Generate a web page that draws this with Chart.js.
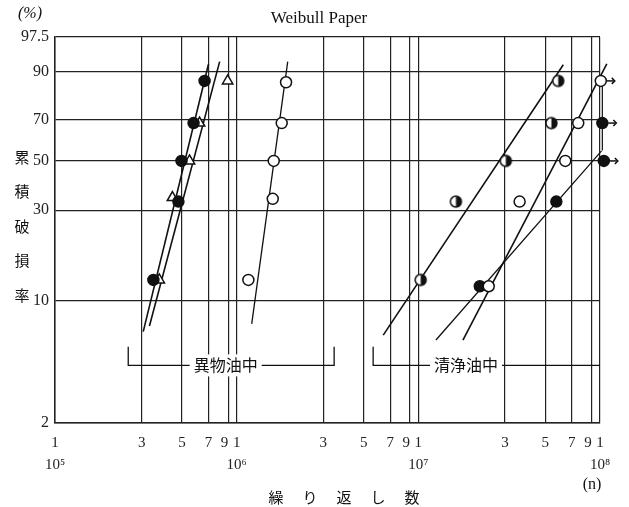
<!DOCTYPE html>
<html>
<head>
<meta charset="utf-8">
<script src="https://cdn.jsdelivr.net/npm/chart.js@4/dist/chart.umd.min.js"></script>
<style>
  html, body { margin: 0; padding: 0; background: #fff; }
  #wrap { width: 629px; height: 507px; }
</style>
</head>
<body>
<div id="wrap"><canvas id="weibullChart"></canvas></div>
<script>
// tick values
const yTicksPct = [2, 10, 30, 50, 70, 90, 97.5];
const xTickVals = [1e5, 3e5, 5e5, 7e5, 9e5, 1e6, 3e6, 5e6, 7e6, 9e6, 1e7, 3e7, 5e7, 7e7, 9e7, 1e8];
const decadeLabels = { 5: "10⁵", 6: "10⁶", 7: "10⁷", 8: "10⁸" };

// 異物油中 (cycles, cumulative failure %)
const dirtyFilledX = [3.48e5, 4.78e5, 4.97e5, 5.79e5, 6.66e5];
const dirtyFilledY = [13, 33, 50, 68.5, 87];
const dirtyTriX = [3.75e5, 4.43e5, 5.5e5, 6.25e5, 8.92e5];
const dirtyTriY = [13, 34.5, 50, 68.5, 87];
const dirtyOpenX = [1.16e6, 1.58e6, 1.6e6, 1.77e6, 1.87e6];
const dirtyOpenY = [13, 34, 50, 68.5, 86.5];

// 清浄油中
const cleanHalfX = [1.03e7, 1.61e7, 3.03e7, 5.4e7, 5.89e7];
const cleanHalfY = [13, 33, 50, 68.5, 87];
const cleanOpenX = [2.44e7, 3.61e7, 6.44e7, 7.59e7, 1.01e8];
const cleanOpenY = [12, 33, 50, 68.5, 87];
const cleanFilledX = [2.18e7, 5.75e7, 1.05e8, 1.03e8];
const cleanFilledY = [12, 33, 50, 68.5];

// fitted lines (two end points each)
const fitDirtyFilledX = [3.06e5, 7.0e5];
const fitDirtyFilledY = [6.7, 92.3];
const fitDirtyTriX = [3.31e5, 8.06e5];
const fitDirtyTriY = [7.2, 92.9];
const fitDirtyOpenX = [1.21e6, 1.91e6];
const fitDirtyOpenY = [7.4, 92.9];
const fitCleanHalfX = [6.41e6, 6.28e7];
const fitCleanHalfY = [6.4, 92.1];
const fitCleanOpenX = [1.76e7, 1.09e8];
const fitCleanOpenY = [6.0, 92.3];
const fitCleanFilledX = [1.25e7, 1.02e8];
const fitCleanFilledY = [6.0, 54.8];
const runoutLinkX = [1.03e8, 1.03e8];
const runoutLinkY = [87, 55];

// suspended (run-out) points get an arrow
const runoutX = [1.01e8, 1.03e8, 1.05e8];
const runoutY = [87, 68.5, 50];

// group brackets under the data
const groupFromX = [2.53e5, 5.64e6];
const groupToX = [3.44e6, 1.0e8];
const groupLabelX = [8.7e5, 1.83e7];
const groupNames = ["異物油中", "清浄油中"];
const groupTopPct = 5.5, groupBottomPct = 4.3;

const W = p => Math.log(-Math.log(1 - p / 100));
const pts = (xs, ys) => xs.map((x, i) => ({ x: x, y: W(ys[i]) }));

function halfDot(r) {
    const c = document.createElement("canvas");
    const s = Math.ceil(2 * r + 4);
    c.width = c.height = s;
    const g = c.getContext("2d");
    g.fillStyle = "#fff";
    g.beginPath(); g.arc(s / 2, s / 2, r, 0, Math.PI * 2); g.fill();
    g.fillStyle = "#111";
    g.beginPath(); g.arc(s / 2, s / 2, r, -Math.PI / 2, Math.PI / 2); g.closePath(); g.fill();
    g.lineWidth = 1.5; g.strokeStyle = "#111";
    g.beginPath(); g.arc(s / 2, s / 2, r, 0, Math.PI * 2); g.stroke();
    return c;
}

function marks(xs, ys, style, fill) {
    return {
        data: pts(xs, ys), showLine: false, clip: false,
        pointStyle: style, pointRadius: style === "triangle" ? 6 : 5.5,
        pointBackgroundColor: fill, pointBorderColor: "#111", pointBorderWidth: 1.5
    };
}
function fit(xs, ys, w) {
    return {
        data: pts(xs, ys), showLine: true, clip: false, pointRadius: 0,
        borderColor: "#111", borderWidth: w || 1.6
    };
}

const textPlugin = {
    id: "paperText",
    afterDatasetsDraw(chart) {
        const ctx = chart.ctx, xs = chart.scales.x, ys = chart.scales.y;
        ctx.save();
        // arrows for suspended points
        ctx.strokeStyle = "#111"; ctx.fillStyle = "#111"; ctx.lineWidth = 1.5;
        runoutX.forEach((v, i) => {
            const px = xs.getPixelForValue(v), py = ys.getPixelForValue(W(runoutY[i]));
            ctx.beginPath(); ctx.moveTo(px + 6, py); ctx.lineTo(px + 13, py); ctx.stroke();
            ctx.beginPath(); ctx.moveTo(px + 11, py - 3); ctx.lineTo(px + 14, py); ctx.lineTo(px + 11, py + 3); ctx.stroke();
        });
        // brackets
        const yT = ys.getPixelForValue(W(groupTopPct)), yB = ys.getPixelForValue(W(groupBottomPct));
        ctx.lineWidth = 1.3;
        ctx.font = "16px 'Noto Sans CJK JP'";
        ctx.textAlign = "center"; ctx.textBaseline = "middle";
        groupNames.forEach((name, i) => {
            const x1 = xs.getPixelForValue(groupFromX[i]), x2 = xs.getPixelForValue(groupToX[i]);
            ctx.beginPath(); ctx.moveTo(x1, yT); ctx.lineTo(x1, yB); ctx.lineTo(x2, yB);
            if (i === 0) ctx.lineTo(x2, yT);
            ctx.stroke();
            const lx = xs.getPixelForValue(groupLabelX[i]);
            const tw = ctx.measureText(name).width;
            ctx.fillStyle = "#fff"; ctx.fillRect(lx - tw / 2 - 4, yB - 11, tw + 8, 22);
            ctx.fillStyle = "#111"; ctx.fillText(name, lx, yB);
        });
        ctx.restore();
    },
    afterDraw(chart) {
        const ctx = chart.ctx;
        ctx.save();
        ctx.fillStyle = "#111";
        ctx.textAlign = "center"; ctx.textBaseline = "middle";
        ctx.font = "17px 'Liberation Serif'";
        ctx.fillText("Weibull Paper", 319, 19);
        ctx.font = "italic 16px 'Liberation Serif'";
        ctx.fillText("(%)", 30, 14);
        ctx.font = "16px 'Liberation Serif'";
        ctx.fillText("(n)", 592, 485);
        ctx.font = "15px 'Noto Sans CJK JP'";
        "累積破損率".split("").forEach((ch, i) => ctx.fillText(ch, 22, 157 + i * 34.5));
        "繰り返し数".split("").forEach((ch, i) => ctx.fillText(ch, 276 + i * 34, 497));
        ctx.restore();
    }
};

new Chart(document.getElementById("weibullChart"), {
    type: "scatter",
    data: {
        datasets: [
            marks(dirtyFilledX, dirtyFilledY, "circle", "#111"),
            marks(dirtyTriX, dirtyTriY, "triangle", "#fff"),
            marks(dirtyOpenX, dirtyOpenY, "circle", "#fff"),
            marks(cleanHalfX, cleanHalfY, halfDot(5.5), "#fff"),
            marks(cleanOpenX, cleanOpenY, "circle", "#fff"),
            marks(cleanFilledX, cleanFilledY, "circle", "#111"),
            fit(fitDirtyFilledX, fitDirtyFilledY),
            fit(fitDirtyTriX, fitDirtyTriY),
            fit(fitDirtyOpenX, fitDirtyOpenY, 1.3),
            fit(fitCleanHalfX, fitCleanHalfY),
            fit(fitCleanOpenX, fitCleanOpenY),
            fit(fitCleanFilledX, fitCleanFilledY, 1.3),
            fit(runoutLinkX, runoutLinkY, 1.2)
        ]
    },
    options: {
        responsive: true,
        maintainAspectRatio: false,
        animation: false,
        layout: { padding: { top: 37, right: 29, left: 0, bottom: 0 } },
        plugins: { legend: { display: false }, tooltip: { enabled: false } },
        scales: {
            x: {
                type: "logarithmic", min: 1e5, max: 1e8,
                afterBuildTicks: s => { s.ticks = xTickVals.map(v => ({ value: v })); },
                afterFit: s => { s.height = 84; },
                ticks: {
                    autoSkip: false, maxRotation: 0, padding: 9, color: "#222",
                    font: { family: "'Liberation Serif'", size: 15, lineHeight: 1.45 },
                    callback: v => {
                        const e = Math.floor(Math.log10(v) + 1e-9);
                        const d = Math.round(v / Math.pow(10, e));
                        if (d === 1) return ["1", decadeLabels[e]];
                        // the 9 sits a little left of its line on the paper
                        return d === 9 ? "9\u2002" : String(d);
                    }
                },
                grid: { color: "#222", lineWidth: 1.2, drawTicks: false },
                border: { color: "#222", width: 1.5 }
            },
            y: {
                min: W(2), max: W(97.5),
                afterBuildTicks: s => { s.ticks = yTicksPct.map(p => ({ value: W(p) })); },
                afterFit: s => { s.width = 55; },
                ticks: {
                    autoSkip: false, padding: 6, color: "#222",
                    font: { family: "'Liberation Serif'", size: 16 },
                    callback: (v, i) => String(yTicksPct[i])
                },
                grid: { color: "#222", lineWidth: 1.2, drawTicks: false },
                border: { color: "#222", width: 1.5 }
            }
        }
    },
    plugins: [textPlugin]
});
</script>
</body>
</html>
